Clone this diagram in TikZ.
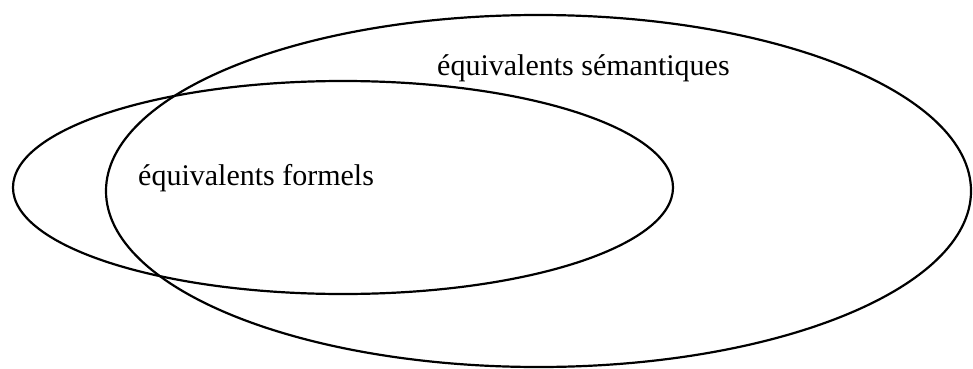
\documentclass[tikz,border=0pt]{standalone}
\usepackage{fontspec}
\setmainfont{Liberation Serif}
\usetikzlibrary{positioning}

\begin{document}
\begin{tikzpicture}[
    x=1pt, y=1pt,
    set/.style={draw=black, line width=2.2pt},
    label/.style={font=\fontsize{30}{36}\selectfont, inner sep=0pt}
]
    \useasboundingbox (0,0) rectangle (973,368);
    % Sets
    \draw[set] (538.5,177) ellipse [x radius=432.5, y radius=176];
    \draw[set] (343,180.5) ellipse [x radius=330, y radius=106.5];

    % Labels
    \node[label, anchor=base west] (sem) at (437,293) {équivalents sémantiques};
    \node[label, anchor=base west] (form) at (138,183) {équivalents formels};
\end{tikzpicture}
\end{document}
